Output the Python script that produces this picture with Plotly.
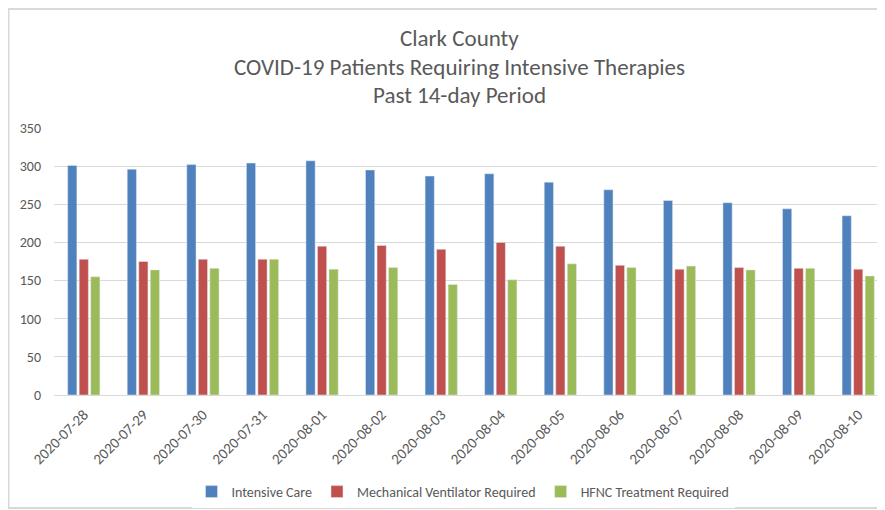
import plotly.graph_objects as go

dates = ["2020-07-28", "2020-07-29", "2020-07-30", "2020-07-31", "2020-08-01",
         "2020-08-02", "2020-08-03", "2020-08-04", "2020-08-05", "2020-08-06",
         "2020-08-07", "2020-08-08", "2020-08-09", "2020-08-10"]
intensive_care = [301, 296, 302, 304, 307, 295, 287, 290, 279, 269, 255, 252, 244, 235]
ventilator = [178, 175, 178, 178, 195, 196, 191, 200, 195, 170, 165, 167, 166, 165]
hfnc = [155, 164, 166, 178, 165, 167, 145, 151, 172, 167, 169, 164, 166, 156]

title_lines = ["Clark County",
               "COVID-19 Patients Requiring Intensive Therapies",
               "Past 14-day Period"]

font_family = "Carlito, Calibri, 'Open Sans', sans-serif"
text_color = "#595959"

# plot area in figure pixels (page has an 8px body margin)
top, bottom, left, right = 120, 387, 46, 880
ph = bottom - top
pw = right - left

fig = go.Figure()
fig.add_trace(go.Bar(x=dates, y=intensive_care, name="Intensive Care", marker_color="#4F81BD"))
fig.add_trace(go.Bar(x=dates, y=ventilator, name="Mechanical Ventilator Required", marker_color="#C0504D"))
fig.add_trace(go.Bar(x=dates, y=hfnc, name="HFNC Treatment Required", marker_color="#9BBB59"))

# title: three lines, spaced like the original
for i, line in enumerate(title_lines):
    fig.add_annotation(
        text=line, xref="paper", yref="paper", x=(451 - left) / pw,
        y=1 + (top - 30 - 28.5 * i) / ph,
        xanchor="center", yanchor="middle", showarrow=False,
        font=dict(size=23, color=text_color, family=font_family),
    )

# outer chart frame
fig.add_shape(type="rect", xref="paper", yref="paper",
              x0=-(left - 0.5) / pw, x1=1.05, y0=-(500 - bottom) / ph, y1=1 + (top - 1) / ph,
              line=dict(color="#D9D9D9", width=2))

fig.update_layout(
    width=885, height=510,
    margin=dict(l=left, r=885 - right, t=top, b=510 - bottom),
    paper_bgcolor="white", plot_bgcolor="white",
    barmode="group", bargap=0.42, bargroupgap=0.2,
    font=dict(family=font_family, color=text_color, size=14),
    showlegend=True,
    legend=dict(orientation="h", x=(455 - left) / pw, xanchor="center",
                y=-(484 - bottom) / ph, yanchor="middle",
                font=dict(size=14, color=text_color), itemwidth=30),
    xaxis=dict(type="category", range=[-0.5, 13.5], tickangle=-45,
               tickfont=dict(size=15, color=text_color), showgrid=False,
               showline=True, linecolor="#D9D9D9", ticks="", ticklabelstandoff=4),
    yaxis=dict(range=[0, 350], dtick=50, showgrid=True, gridcolor="#D9D9D9",
               zeroline=False, tickfont=dict(size=14, color=text_color), ticks="",
               ticklabelstandoff=12),
)

fig.write_html("out.html")
